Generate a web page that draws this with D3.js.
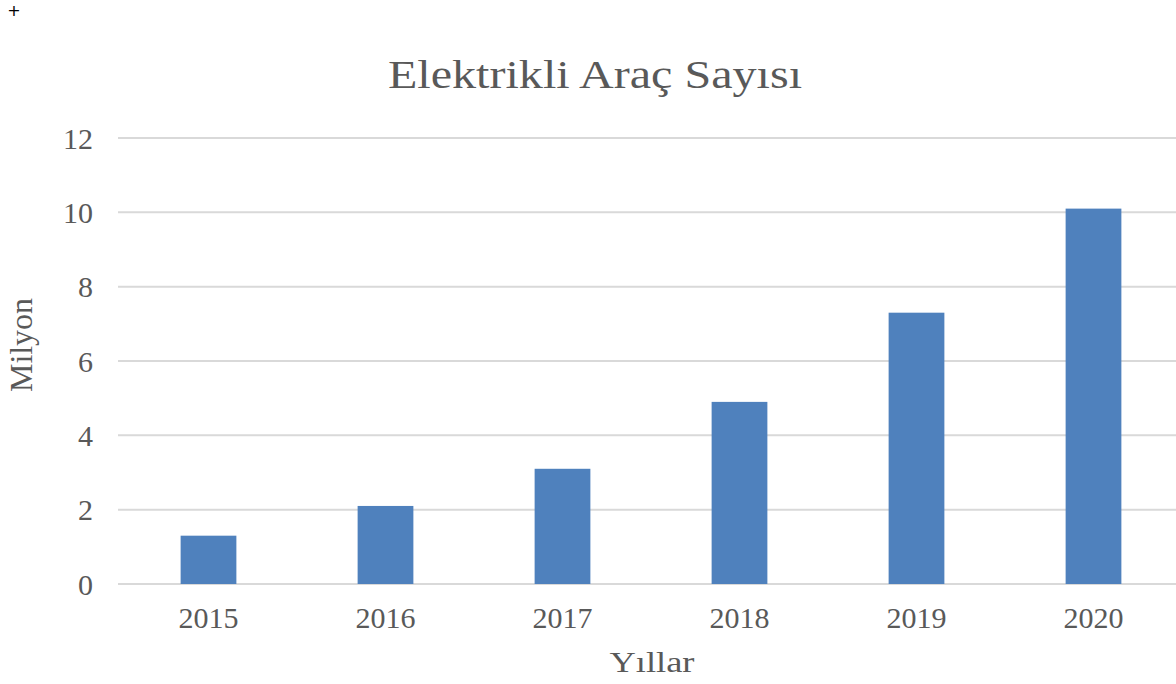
<!DOCTYPE html>
<html>
<head>
<meta charset="utf-8">
<script src="https://cdn.jsdelivr.net/npm/d3@7"></script>
<style>
  body { margin: 0; background: #fff; }
  text { font-family: "Liberation Serif", "DejaVu Serif", serif; fill: #595959; }
</style>
</head>
<body>
<div id="chart"></div>
<script>
const years = ["2015", "2016", "2017", "2018", "2019", "2020"];
const counts = [1.3, 2.1, 3.1, 4.9, 7.3, 10.1];
const yTicks = [0, 2, 4, 6, 8, 10, 12];

const width = 1176, height = 684;
const data = years.map((y, i) => ({ year: y, value: counts[i] }));

const svg = d3.select("#chart")
  .append("svg")
  .attr("width", width)
  .attr("height", height);

// small cross in the corner
svg.append("text")
  .attr("x", 14)
  .attr("y", 16)
  .attr("text-anchor", "middle")
  .style("font-family", "DejaVu Sans, sans-serif")
  .style("font-size", "16px")
  .style("fill", "#000")
  .text("+");

const x = d3.scaleBand()
  .domain(years)
  .range([120, 1182])
  .paddingInner(0.685)
  .paddingOuter(0.3425);

const y = d3.scaleLinear()
  .domain([0, 12])
  .range([584, 138]);

// gridlines
svg.append("g")
  .selectAll("line")
  .data(yTicks)
  .enter()
  .append("line")
  .attr("x1", 118)
  .attr("x2", width)
  .attr("y1", d => y(d))
  .attr("y2", d => y(d))
  .attr("stroke", "#d9d9d9")
  .attr("stroke-width", 2);

// y axis labels
const yAxis = svg.append("g")
  .attr("transform", "translate(93,0)")
  .call(d3.axisLeft(y).tickValues(yTicks).tickSize(0).tickPadding(0));
yAxis.select(".domain").remove();
yAxis.selectAll("text")
  .style("font-size", "30px")
  .attr("font-family", null)
  .attr("dy", "0.34em");

svg.selectAll("rect.bar")
  .data(data)
  .enter()
  .append("rect")
  .attr("class", "bar")
  .attr("x", d => x(d.year))
  .attr("y", d => y(d.value))
  .attr("width", x.bandwidth())
  .attr("height", d => y(0) - y(d.value))
  .attr("fill", "#4f81bd");

// x axis labels
const xAxis = svg.append("g")
  .attr("transform", "translate(0,584)")
  .call(d3.axisBottom(x).tickSize(0).tickPadding(0));
xAxis.select(".domain").remove();
xAxis.selectAll("text")
  .style("font-size", "30px")
  .attr("font-family", null)
  .attr("y", 44)
  .attr("dy", 0);

svg.append("text")
  .attr("x", 595)
  .attr("y", 88)
  .attr("text-anchor", "middle")
  .attr("textLength", 414)
  .attr("lengthAdjust", "spacingAndGlyphs")
  .style("font-size", "41px")
  .text("Elektrikli Araç Sayısı");

svg.append("text")
  .attr("x", 652)
  .attr("y", 672)
  .attr("text-anchor", "middle")
  .attr("textLength", 85)
  .attr("lengthAdjust", "spacingAndGlyphs")
  .style("font-size", "30px")
  .text("Yıllar");

svg.append("text")
  .attr("transform", "translate(32,345) rotate(-90)")
  .attr("text-anchor", "middle")
  .attr("textLength", 94)
  .attr("lengthAdjust", "spacingAndGlyphs")
  .style("font-size", "31px")
  .text("Milyon");
</script>
</body>
</html>
